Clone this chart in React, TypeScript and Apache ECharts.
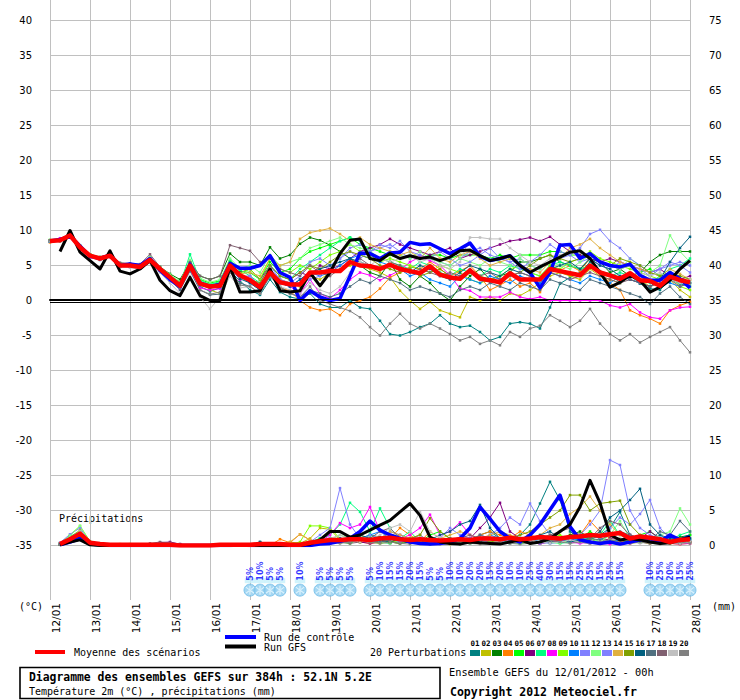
import React, { useEffect, useRef } from "react";
import * as echarts from "echarts";

// ---------- tick labels ----------
const dayLabels = ["12/01","13/01","14/01","15/01","16/01","17/01","18/01","19/01","20/01","21/01","22/01","23/01","24/01","25/01","26/01","27/01","28/01"];

// ---------- temperature (°C), every 6 h from 12/01 00h to 28/01 00h ----------
const tempMean = [8.5,8.6,9.3,7.6,6.4,6.0,6.4,5.0,5.0,4.8,5.8,4.5,3.3,2.1,5.0,2.4,2.0,2.1,5.0,3.6,2.9,1.9,4.0,2.6,2.3,2.3,4.0,4.0,4.2,4.2,5.5,5.0,4.9,4.5,5.1,4.5,4.2,3.9,4.9,3.7,3.3,3.1,4.3,3.1,2.9,2.6,3.9,3.0,3.0,3.0,4.5,4.2,3.9,3.6,5.0,4.0,3.6,3.1,3.9,2.9,2.8,2.1,3.4,2.9,2.6];
const tempControl = [8.5,8.7,9.2,7.8,6.3,6.0,6.5,5.0,5.2,5.0,6.0,4.3,3.0,2.0,5.2,2.5,2.0,2.3,5.3,4.6,4.6,5.0,6.4,4.0,3.3,0.0,1.4,0.5,0.0,0.3,3.5,6.8,6.7,6.0,6.8,6.9,8.3,8.0,8.1,7.4,6.7,7.4,8.2,6.3,5.7,6.0,6.4,5.0,4.0,1.8,4.0,7.9,8.0,6.0,6.7,5.5,5.0,4.8,5.2,3.6,2.9,2.9,4.0,3.1,1.8];
const tempGfs = [null,7.0,10.0,6.9,5.7,4.5,7.1,4.2,3.8,4.5,5.7,2.9,1.4,0.7,3.3,0.7,0.0,0.0,4.8,1.2,1.2,1.4,4.5,1.4,1.2,1.4,4.0,2.1,4.0,6.7,8.6,8.8,6.0,5.7,6.7,6.0,6.4,6.0,6.2,5.7,6.2,7.1,7.2,6.4,5.7,6.0,6.4,5.0,4.0,4.8,5.5,6.2,6.9,7.1,6.0,4.0,1.9,2.6,3.6,2.9,1.2,1.9,2.9,4.5,5.7];

const t01 = [8.4,8.7,9.2,7.8,6.5,6.1,6.3,5.1,4.9,4.6,5.6,4.3,3.0,2.4,4.6,2.0,1.3,1.8,4.2,2.8,1.5,0.8,3.0,1.2,0.5,0.2,1.0,-0.5,-1.0,-1.0,0.0,-1.0,-1.2,-2.9,-4.8,-5.0,-4.5,-3.8,-3.3,-2.1,-3.3,-3.8,-3.6,-4.5,-5.7,-5.2,-3.3,-3.1,-3.3,-4.0,-1.0,2.4,3.3,4.0,5.5,4.2,3.8,2.5,3.6,2.4,1.7,1.5,3.0,2.4,2.0];
const t02 = [8.6,8.5,9.4,7.5,6.6,5.9,6.2,5.2,5.1,4.9,5.9,4.6,3.5,2.6,5.3,2.8,1.5,1.0,4.5,3.2,3.0,2.0,4.5,3.0,2.5,2.0,3.5,3.0,4.0,4.5,5.0,5.0,4.5,4.0,3.3,1.4,0.0,-1.2,-0.2,-1.4,-1.9,-2.4,0.5,0.0,0.5,0.0,1.0,0.7,1.5,2.5,3.5,4.0,3.5,3.0,4.5,3.5,3.0,2.5,3.5,3.0,2.0,2.5,3.0,1.5,0.5];
const t03 = [8.5,8.8,9.1,7.7,6.2,6.2,6.6,5.3,5.2,5.0,6.0,4.8,3.8,3.0,5.5,3.5,3.0,3.5,6.7,5.5,5.5,5.0,7.6,6.0,6.5,8.1,9.0,8.6,7.9,7.0,6.0,5.0,4.0,3.5,5.5,3.0,2.0,3.5,2.5,1.0,0.0,2.0,3.5,4.5,3.0,3.5,4.0,5.5,5.5,6.0,6.5,5.5,5.0,4.5,6.0,5.5,4.0,4.5,3.5,4.0,5.5,6.5,7.0,7.0,7.0];
const t04 = [8.3,8.6,9.3,7.6,6.4,5.9,6.4,4.8,5.0,4.7,5.7,4.4,3.2,2.0,4.8,2.2,1.8,2.4,4.8,3.2,3.0,2.0,4.0,1.8,1.4,0.0,-1.0,-1.4,-1.2,-2.1,-0.5,0.0,0.5,1.7,3.3,4.0,4.8,4.5,5.5,4.5,3.5,4.2,5.0,3.5,1.5,2.2,3.0,2.0,2.5,1.2,4.0,4.3,5.0,4.2,6.0,4.0,2.5,1.5,-1.4,-2.1,-2.6,-3.3,-1.4,-0.7,-0.2];
const t05 = [8.6,8.7,9.5,7.7,6.5,6.1,6.5,5.2,5.1,5.0,6.1,4.7,3.6,2.5,5.5,3.0,2.5,2.8,5.6,4.2,4.0,3.0,5.5,4.0,4.5,6.0,7.0,7.5,8.0,8.5,9.0,8.0,7.5,7.0,6.5,6.0,6.5,6.0,6.5,6.5,6.0,6.5,6.5,6.5,6.0,6.5,6.0,6.5,6.5,6.5,7.0,7.0,6.5,6.5,6.0,5.5,5.0,4.5,5.0,4.0,4.5,3.5,4.0,3.0,2.5];
const t06 = [8.5,8.6,9.2,7.5,6.3,5.9,6.3,5.0,4.8,4.6,5.6,4.4,3.1,1.9,4.8,2.6,2.2,2.5,5.3,4.0,4.5,3.0,5.0,3.5,3.0,4.0,3.5,5.0,4.5,5.0,6.0,7.0,7.5,8.0,8.8,8.0,7.5,7.0,6.5,7.0,7.5,6.0,6.5,7.0,7.5,8.0,8.5,8.7,9.0,8.5,9.1,8.0,7.0,6.5,6.0,5.5,6.0,5.5,5.0,4.5,4.0,4.5,3.5,3.0,3.5];
const t07 = [8.4,8.5,9.4,7.9,6.6,6.2,6.4,5.2,5.2,4.9,6.0,4.6,3.4,2.3,6.6,2.9,2.3,2.7,5.8,4.4,3.5,2.5,5.0,3.5,3.0,4.5,5.5,6.5,7.5,8.5,9.0,8.5,7.0,6.0,5.5,5.0,4.5,5.5,5.0,4.0,3.5,4.5,4.0,3.5,4.5,4.0,5.0,4.5,4.0,3.5,5.0,5.5,5.0,4.5,5.0,4.0,3.5,4.0,3.5,3.0,2.5,3.5,4.5,5.0,6.0];
const t08 = [8.5,8.9,9.2,7.6,6.2,6.0,6.2,4.9,4.9,4.6,5.6,4.3,3.0,1.6,4.4,1.8,1.5,1.7,4.8,3.0,3.5,2.0,4.5,2.5,2.0,1.0,3.0,1.0,0.3,1.5,3.0,4.0,3.6,2.9,3.6,4.3,5.5,6.2,5.7,5.0,3.6,1.7,1.4,0.5,0.5,0.5,1.2,0.5,0.2,0.5,0.0,0.0,0.0,0.0,0.0,0.0,-0.7,-1.0,-0.5,-1.7,-2.4,-2.6,-1.4,-1.0,-0.9];
const t09 = [8.6,8.6,9.3,7.7,6.5,6.0,6.5,5.1,5.0,4.8,5.9,4.5,3.5,2.4,5.2,2.7,2.1,2.3,5.3,3.9,4.5,3.0,6.0,4.5,4.0,5.0,4.5,5.5,6.5,7.0,8.0,7.0,6.5,5.5,6.0,5.5,5.0,4.5,4.0,5.0,4.5,4.0,3.0,2.5,3.0,3.5,4.5,5.0,4.0,3.5,5.0,4.5,5.5,6.0,7.0,6.0,5.5,5.0,4.5,4.0,3.5,3.0,3.5,2.0,1.5];
const t10 = [8.4,8.5,9.1,7.5,6.3,5.8,6.3,4.9,4.8,4.7,5.7,4.3,3.1,2.0,4.6,2.2,1.8,1.9,5.0,3.4,2.5,1.5,4.0,2.5,2.0,3.0,4.0,3.5,4.0,5.0,6.0,6.5,6.0,5.5,5.0,4.5,3.5,4.0,3.0,2.5,2.0,3.5,3.0,2.5,3.5,3.0,2.5,3.5,3.0,2.5,4.0,3.5,3.0,2.5,3.5,3.0,2.5,3.5,3.0,2.5,2.0,3.0,2.5,2.0,2.5];
const t11 = [8.5,8.7,9.6,7.4,6.2,6.1,6.2,5.0,4.9,4.7,5.5,4.2,2.9,1.8,4.9,2.3,1.9,2.2,5.1,3.5,3.5,2.0,4.5,3.0,2.5,2.5,3.0,3.5,5.0,6.0,7.5,8.0,7.0,7.5,8.0,7.0,6.0,6.5,6.0,5.5,5.0,6.0,7.0,7.5,6.5,6.0,5.5,6.0,5.0,4.5,5.5,6.0,6.5,5.5,6.0,5.0,4.5,5.5,5.0,4.5,3.5,4.5,5.0,5.5,5.0];
const t12 = [8.7,8.6,9.3,7.8,6.6,6.2,6.6,5.3,5.2,5.1,6.2,4.8,3.7,2.7,5.8,3.2,2.6,3.0,6.0,4.6,5.0,4.0,6.5,5.0,5.5,6.0,7.5,8.0,8.5,9.0,8.0,7.5,7.0,6.0,7.0,6.5,6.0,7.0,6.0,5.5,5.0,6.0,5.5,5.0,6.0,5.5,5.0,6.0,5.0,4.5,5.5,5.0,4.5,5.5,6.5,5.5,5.0,4.5,6.0,5.0,4.0,5.0,9.3,7.0,5.5];
const t13 = [8.4,8.6,9.2,7.6,6.4,5.9,6.4,4.8,4.9,4.8,5.8,4.4,3.3,2.2,5.1,2.5,2.0,2.0,4.9,3.3,3.0,2.5,5.0,3.0,2.5,3.5,5.5,6.0,5.0,6.0,7.0,6.0,7.0,8.0,7.5,8.5,7.0,6.5,6.0,7.0,6.0,5.0,5.5,6.5,7.5,6.0,5.5,4.5,5.5,6.5,8.0,7.0,6.5,7.5,9.5,10.1,8.5,7.5,6.0,5.0,4.0,4.5,5.5,5.0,4.0];
const t14 = [8.5,8.5,9.0,7.5,6.4,6.0,6.5,5.1,5.1,4.9,5.9,4.6,3.4,2.2,5.0,2.5,2.1,2.4,5.2,3.8,4.0,3.5,6.0,5.0,5.5,8.8,9.7,10.0,10.3,9.5,8.5,9.0,8.0,7.5,7.0,6.5,7.0,6.0,7.5,6.0,5.5,6.5,7.0,6.0,5.0,5.5,6.0,5.0,4.5,4.0,5.5,6.0,7.5,8.0,8.8,7.5,6.5,5.5,5.0,4.5,4.0,3.5,4.5,3.8,3.0];
const t15 = [8.6,8.7,9.4,7.6,6.5,6.0,6.4,5.0,5.0,4.8,5.8,4.5,3.3,2.1,5.0,2.4,2.0,2.2,5.0,3.6,3.0,2.5,5.0,3.5,3.0,4.0,5.0,4.5,5.5,6.5,7.0,6.5,6.0,5.0,4.5,4.0,4.5,3.5,4.0,4.5,3.5,3.0,4.0,3.5,3.0,2.5,3.5,4.0,5.0,6.0,6.5,6.0,5.5,6.0,6.5,5.5,5.0,6.0,5.5,5.0,4.0,3.5,4.0,3.5,3.0];
const t16 = [8.5,8.6,9.3,7.7,6.3,6.1,6.5,4.9,5.0,4.7,5.7,4.5,3.2,2.0,4.9,2.3,1.9,2.0,4.7,3.1,2.5,1.5,3.5,2.5,2.0,3.0,4.0,4.5,5.0,5.5,6.0,5.5,5.0,4.5,5.0,4.5,4.0,5.0,4.5,3.5,3.0,4.0,5.0,4.5,4.0,3.5,4.5,4.0,3.5,3.0,4.5,5.0,5.5,4.5,6.0,5.0,4.5,3.5,3.0,2.5,2.0,3.0,5.5,7.5,9.1];
const t17 = [8.4,8.6,9.2,7.5,6.4,6.0,6.3,4.9,4.9,4.7,5.6,4.3,2.9,1.5,4.2,1.5,0.8,0.9,4.0,2.5,2.0,1.0,3.5,2.0,1.0,0.5,1.5,1.0,0.5,1.0,2.0,3.0,2.5,3.5,3.0,2.5,1.5,2.0,1.5,1.0,0.5,1.5,2.0,1.5,2.5,2.0,1.5,2.5,2.0,1.5,3.0,2.5,2.0,1.5,3.0,2.5,2.0,1.5,1.0,0.5,-0.5,1.0,2.0,0.5,-0.5];
const t18 = [8.6,8.5,9.3,7.7,6.5,6.2,6.6,5.4,5.3,5.2,6.6,4.8,3.5,2.5,5.5,3.5,3.0,3.5,7.9,7.5,7.1,5.5,6.0,4.5,4.0,3.5,5.0,4.0,3.5,4.5,5.5,6.0,5.0,4.5,5.5,5.0,4.0,4.5,4.0,3.5,4.0,3.5,4.5,3.5,4.0,3.0,3.5,4.0,3.5,3.0,4.0,3.5,3.0,3.5,4.0,3.5,3.0,2.5,3.0,2.5,2.0,2.5,3.0,2.0,2.5];
const t19 = [8.5,8.7,9.3,7.6,6.3,5.9,6.2,4.8,4.7,4.5,5.4,4.0,2.5,1.0,3.5,0.5,-1.2,0.5,3.5,1.8,2.0,1.0,4.0,2.0,1.5,1.0,2.5,1.5,1.0,2.0,4.0,5.5,5.0,6.0,5.5,6.0,6.5,5.5,6.0,5.0,4.5,5.5,9.0,9.0,8.8,8.8,7.5,6.5,5.5,5.0,6.0,6.5,7.0,6.0,6.5,5.5,5.0,4.5,5.0,4.0,3.5,4.0,3.0,2.5,3.0];
const t20 = [8.6,8.5,9.4,7.5,6.3,5.8,6.5,4.9,5.1,4.7,5.9,4.4,3.2,1.8,5.2,1.5,0.9,1.2,4.0,2.2,2.0,1.0,3.5,1.8,1.0,0.5,2.0,0.0,-0.5,-1.0,-1.5,-2.4,-3.8,-5.0,-3.3,-1.9,-3.3,-4.0,-3.3,-4.0,-4.8,-5.7,-5.2,-6.2,-5.7,-6.4,-4.5,-5.2,-4.0,-3.6,-2.1,-2.9,-3.8,-2.9,-1.2,-3.3,-4.8,-5.7,-4.8,-6.0,-5.2,-4.5,-3.8,-5.7,-7.4];
const tempMembers = [t01,t02,t03,t04,t05,t06,t07,t08,t09,t10,t11,t12,t13,t14,t15,t16,t17,t18,t19,t20];

// ---------- precipitation (mm / 6 h), from 12/01 06h to 28/01 00h ----------
const precipMean = [0.2,0.9,1.7,0.4,0.2,0.1,0.1,0.1,0.1,0.1,0.1,0.1,0.0,0.0,0.0,0.0,0.1,0.1,0.1,0.1,0.2,0.2,0.2,0.1,0.1,0.4,0.6,0.8,0.8,0.9,0.9,0.8,1.0,1.1,0.9,0.8,0.9,0.8,0.7,0.8,0.9,0.8,1.0,1.0,0.9,1.1,0.9,1.0,1.2,1.1,1.0,1.2,1.3,1.5,1.4,1.6,1.8,1.0,1.3,1.1,0.9,0.5,0.8,0.9];
const precipControl = [0.1,0.5,1.0,0.2,0.1,0,0,0,0,0,0,0,0,0,0,0,0,0,0.1,0,0,0,0,0,0,0,0.2,0.3,0.6,1.0,2.0,3.5,2.2,1.5,1.0,0.5,0.3,0.2,0.3,0.5,1.0,2.5,5.5,3.8,2.0,1.0,0.5,1.5,3.0,5.1,7.2,2.7,0.8,0.5,0.3,0.5,0.2,0.5,0.8,1.0,0.5,1.5,0.8,1.3];
const precipGfs = [0.1,0.5,0.8,0.1,0,0,0,0,0,0,0,0,0,0,0,0,0,0,0,0,0,0,0,0,0,0.2,0.8,2.0,2.0,1.2,1.5,2.2,2.9,3.6,4.8,6.0,4.3,1.2,0.5,0.3,0.2,0.5,0.4,0.3,0.2,0.5,0.8,0.3,0.5,1.0,2.0,3.0,5.5,9.3,6.1,1.5,0.8,1.0,0.8,0.5,0.3,0.4,0.8,1.2];

const r01 = [0.2,0.8,1.5,0.3,0.2,0.1,0.1,0.1,0,0,0,0,0,0,0,0,0,0,0,0.1,0.5,0.2,0,0,0,0.3,0.5,1.0,0.5,0.8,1.2,0.6,0.5,0.3,0.8,1.0,0.5,0.3,0.5,0.8,1.0,0.5,1.5,2.0,1.0,0.8,1.5,3.0,6.0,9.1,6.5,2.0,1.0,0.8,1.5,2.5,4.8,1.5,0.5,0.3,0.8,0.5,0.3,0.5];
const r02 = [0.3,1.2,2.2,0.5,0.1,0.1,0.2,0.1,0,0,0,0,0,0,0,0,0,0,0,0,0,0,0.2,0.5,0.3,1.0,2.5,2.3,0.8,0.5,1.5,1.0,0.8,0.5,0.3,1.0,1.5,0.5,0.3,0.2,0.5,0.8,0.5,0.3,0.5,1.0,0.8,0.5,0.3,0.5,1.0,1.5,0.8,0.5,1.0,0.8,0.5,0.3,0.5,1.0,0.5,0.3,0.2,0.5];
const r03 = [0.1,0.6,1.0,0.2,0.1,0,0.1,0,0,0,0,0,0,0,0,0,0,0,0,0,0,0,0,0,0,0.2,0.3,0.5,0.8,1.2,0.8,1.5,1.2,0.5,0.3,0.5,0.3,0.2,0.5,0.3,0.2,0.5,0.8,0.5,0.3,0.8,1.0,0.5,0.3,0.8,0.5,1.5,2.0,1.0,0.5,0.3,0.5,0.8,1.0,0.5,0.3,0.8,1.2,1.5];
const r04 = [0.2,1.0,1.8,0.4,0.2,0.1,0.1,0.1,0,0,0,0,0,0,0,0,0,0,0,0,0,0,0.9,0.4,1.6,0.8,0.5,0.3,0.5,0.8,0.5,0.3,0.5,1.0,2.5,1.5,0.5,2.0,1.0,0.5,0.3,0.5,1.5,2.0,1.5,1.0,2.0,1.5,1.0,0.5,0.8,1.0,1.5,3.5,2.0,1.0,0.5,0.8,0.5,0.3,0.5,0.3,0.2,0.3];
const r05 = [0.2,0.9,1.6,0.3,0.2,0.1,0.1,0.1,0,0,0,0,0,0,0,0,0,0,0,0,0,0,0,0,0,0.5,1.0,0.8,0.5,0.3,1.0,1.5,0.8,0.5,1.0,0.8,0.5,1.5,2.0,1.0,0.5,0.3,0.5,1.0,0.8,0.5,0.3,0.5,1.0,1.5,0.8,0.5,1.0,2.0,1.0,0.5,0.3,0.8,1.5,2.0,1.0,0.5,1.0,1.5];
const r06 = [0.2,0.7,1.3,0.3,0.1,0.1,0.1,0.1,0,0.2,0.4,0.5,0.2,0,0,0,0,0,0,0,0,0,0,0,0,0.3,0.5,0.3,0.5,0.8,0.5,0.3,0.5,0.8,1.5,1.0,0.5,0.8,0.3,0.5,0.8,1.0,2.5,4.0,6.1,2.0,1.0,0.5,0.3,0.5,0.8,1.0,0.5,0.3,0.5,1.0,0.8,1.5,1.0,2.0,1.0,0.5,0.3,0.5];
const r07 = [0.3,1.3,2.0,0.5,0.2,0.1,0.1,0.1,0,0,0,0,0,0,0,0,0,0,0,0,0,0,0,0,0.1,0.5,1.0,1.5,3.0,6.1,4.8,2.0,5.3,2.5,1.0,2.0,0.5,0.8,0.5,1.0,0.5,0.3,0.8,0.5,1.0,0.5,0.3,0.8,1.0,0.5,0.3,0.5,0.8,1.0,1.5,3.5,1.5,0.8,0.5,1.0,0.5,0.8,1.5,2.0];
const r08 = [0.2,0.8,1.4,0.3,0.2,0.1,0.1,0.1,0,0,0,0,0,0,0,0,0,0,0,0,0,0,0,0,0,0.3,0.5,1.5,3.2,2.5,3.0,5.5,2.0,1.5,1.0,1.5,2.5,4.4,1.5,2.0,3.3,1.5,0.8,0.5,0.3,0.5,1.0,0.5,0.3,0.5,0.8,0.5,0.3,0.5,0.3,0.2,0.5,0.3,0.8,1.0,0.5,0.3,0.2,0.3];
const r09 = [0.3,1.5,2.8,0.6,0.3,0.1,0.1,0.2,0,0,0,0,0.1,0,0,0,0,0,0,0,0,0,0,0.2,0.5,2.8,2.8,2.5,1.0,0.5,0.8,0.5,0.3,0.5,0.8,1.0,0.5,0.3,0.5,0.8,1.0,0.5,0.3,0.5,0.8,1.0,0.5,0.3,0.5,1.0,1.5,0.8,0.5,1.0,0.5,0.8,0.3,0.5,1.0,0.8,0.5,0.3,0.5,1.0];
const r10 = [0.2,0.8,1.5,0.3,0.2,0.1,0.1,0.1,0,0,0,0,0,0,0,0,0,0,0,0,0,0,0,0,0,0.2,0.5,1.0,0.8,0.5,1.0,1.5,2.0,1.0,0.5,0.8,1.0,0.5,0.3,0.5,0.8,1.0,0.5,1.5,1.0,0.5,0.8,1.0,0.5,0.3,0.5,1.0,0.8,1.5,1.0,0.5,0.8,1.0,0.5,0.8,1.5,0.5,0.3,0.8];
const r11 = [0.4,1.6,2.5,0.5,0.2,0.1,0.1,0.1,0,0,0,0.3,0,0,0,0,0,0,0,0,0,0,0,0,0,0.5,1.5,2.5,8.2,3.0,1.0,0.5,0.8,1.0,0.5,0.8,1.5,0.5,0.3,0.8,1.0,0.5,1.5,1.0,0.5,0.8,1.0,0.5,0.3,0.5,1.0,0.8,0.5,0.3,1.0,2.5,4.0,3.0,4.5,6.5,2.5,1.0,0.8,0.5];
const r12 = [0.3,1.4,2.8,0.5,0.2,0.1,0.1,0.1,0,0,0,0,0,0,0,0,0,0,0,0,0,0,0,0,0,0.3,0.5,0.8,1.5,1.0,0.5,1.0,0.5,0.3,0.8,1.0,0.5,1.0,0.8,0.5,0.3,0.5,1.0,0.8,0.5,0.3,0.5,0.8,1.0,0.5,0.3,0.8,1.5,1.0,0.5,1.5,3.5,1.0,0.5,0.8,1.5,2.0,5.3,3.0];
const r13 = [0.3,1.0,1.9,0.4,0.2,0.1,0.1,0.1,0,0,0,0,0,0,0,0,0,0,0,0,0,0,0,0,0,0.3,0.8,0.5,1.0,0.5,0.8,1.5,1.0,2.0,1.5,1.0,0.5,0.8,1.0,2.5,1.5,1.0,0.8,1.5,2.5,4.0,3.0,6.0,3.5,1.5,1.0,0.8,1.5,3.0,5.0,12.2,11.5,5.0,2.5,1.5,1.0,0.8,0.5,1.0];
const r14 = [0.2,0.9,1.6,0.4,0.2,0.1,0.1,0.1,0,0,0,0,0,0,0,0,0,0,0,0,0,0,0,0.5,1.6,0.8,0.5,0.3,0.5,1.0,1.5,0.8,1.0,2.0,1.5,1.0,0.8,0.5,1.0,1.5,2.0,1.5,1.0,1.5,2.0,1.5,1.0,0.8,1.5,2.5,3.0,4.5,5.5,7.0,5.0,3.0,1.5,1.0,0.8,0.5,0.8,0.5,0.3,0.5];
const r15 = [0.2,0.8,1.4,0.3,0.1,0.1,0.1,0.1,0,0,0,0,0,0,0,0,0,0,0,0,0,0,0,0,0,0.2,0.5,0.8,0.5,1.0,0.5,0.8,1.0,0.5,0.8,1.0,1.5,3.9,2.0,1.0,0.5,0.8,1.0,0.5,0.8,1.0,1.5,2.0,3.0,4.0,5.0,7.2,7.2,5.0,6.0,6.2,6.4,3.0,1.5,1.0,0.5,0.8,1.0,0.5];
const r16 = [0.2,0.7,1.2,0.3,0.1,0.1,0.1,0.1,0,0,0,0,0,0,0,0,0,0,0,0,0.5,0.2,0,0,0,0.3,0.5,0.8,1.0,0.8,1.5,1.0,0.8,0.5,1.0,0.8,0.5,0.8,1.5,2.0,3.0,3.5,5.8,2.5,1.0,0.8,0.5,1.0,1.5,2.0,1.0,0.5,0.8,1.0,2.0,4.0,5.0,6.5,8.1,3.0,1.5,1.0,0.8,1.0];
const r17 = [0.2,0.8,1.5,0.4,0.2,0.1,0.1,0.1,0,0,0,0,0,0,0,0,0,0,0,0,0,0,0,0,0,0.2,0.3,0.5,0.8,0.5,1.0,0.8,0.5,0.8,1.0,0.5,0.3,0.5,0.8,1.0,0.5,0.8,1.5,1.0,0.5,0.3,0.5,0.8,1.0,0.5,0.8,1.0,1.5,1.0,0.8,1.5,2.0,1.5,1.0,0.8,2.0,1.5,3.5,2.0];
const r18 = [0.2,0.9,1.5,0.3,0.2,0.1,0.1,0.1,0,0.3,0.5,0.4,0.2,0,0,0,0,0,0,0,0,0,0,0,0,0.3,0.5,0.8,0.5,0.3,0.5,1.0,2.0,2.5,1.0,0.5,0.3,0.5,0.8,0.5,1.0,1.5,1.0,0.8,0.5,1.0,0.8,0.5,1.0,1.5,2.0,2.5,1.5,1.0,2.5,3.5,3.0,1.5,1.0,0.5,0.8,0.5,0.3,0.5];
const r19 = [0.3,1.1,2.0,0.4,0.2,0.1,0.1,0.1,0,0,0,0,0,0,0,0,0,0,0,0,0,0,0,0,0,0.3,0.5,1.0,1.5,0.8,0.5,0.8,1.5,2.5,3.0,2.0,4.9,2.0,1.0,0.8,0.5,0.3,0.5,0.8,0.5,0.3,0.5,0.8,0.5,0.3,0.5,0.8,0.5,0.3,0.5,0.8,1.0,0.5,0.3,0.5,0.8,0.5,0.3,0.5];
const r20 = [0.2,0.8,1.4,0.3,0.2,0.1,0.1,0.1,0,0,0,0,0,0,0,0,0,0,0,0,0,0,0,0,0,0.2,0.3,0.5,0.3,0.5,0.8,0.5,0.3,0.5,0.3,0.2,0.5,0.3,0.2,0.3,0.5,0.3,0.2,0.3,0.5,0.3,0.2,0.3,0.5,0.8,0.5,0.3,0.5,0.3,0.5,0.8,0.5,0.3,0.5,0.3,0.2,0.3,0.5,0.3];
const precipMembers = [r01,r02,r03,r04,r05,r06,r07,r08,r09,r10,r11,r12,r13,r14,r15,r16,r17,r18,r19,r20];

const memberColors = ["#008080","#c0c000","#008000","#ff8000","#00ff00","#800080","#00ff80","#ff00ff","#80ff00","#0080ff","#8080ff","#80ff80","#8080ff","#e0b040","#80a000","#006080","#507080","#806070","#c0c0c0","#808080"];
const memberLabels = ["01","02","03","04","05","06","07","08","09","10","11","12","13","14","15","16","17","18","19","20"];

// ---------- snow probability (%) ----------
const snowHours = [120,126,132,138,150,162,168,174,180,192,198,204,210,216,222,228,234,240,246,252,258,264,270,276,282,288,294,300,306,312,318,324,330,336,342,360,366,372,378,384];
const snowPct = [5,10,5,5,10,5,5,5,5,5,10,15,15,20,15,5,5,10,10,20,20,15,20,10,10,25,40,30,15,15,25,25,15,25,15,10,25,20,15,25];

const MONO = '"DejaVu Sans Mono", monospace';
const SANS = '"DejaVu Sans", sans-serif';
const SNOWFLAKE = "path://M4.4 0 H5.6 V10 H4.4 Z M0.5 2.1 L1.1 1.1 L9.5 7.9 L8.9 8.9 Z M0.5 7.9 L1.1 8.9 L9.5 2.1 L8.9 1.1 Z";

const toPairs = (vals: (number | null)[], startHour: number) => vals.map((v, i) => [startHour + i * 6, v]);

function memberSeries(vals: number[], start: number, color: string, yAxisIndex: number) {
  return {
    type: "line",
    xAxisIndex: 0,
    yAxisIndex,
    data: toPairs(vals, start),
    symbol: "rect",
    symbolSize: 2.5,
    showSymbol: true,
    lineStyle: { color, width: 1 },
    itemStyle: { color },
    silent: true,
    z: 2,
  };
}

function thickSeries(vals: (number | null)[], start: number, color: string, width: number, yAxisIndex: number, extra: any = {}) {
  return {
    type: "line",
    xAxisIndex: 0,
    yAxisIndex,
    data: toPairs(vals, start),
    symbol: "none",
    lineStyle: { color, width, join: "round" },
    itemStyle: { color },
    silent: true,
    z: 3,
    ...extra,
  };
}

function buildOption() {
  const series: any[] = [];
  tempMembers.forEach((v, i) => series.push(memberSeries(v, 0, memberColors[i], 0)));
  precipMembers.forEach((v, i) => series.push(memberSeries(v, 6, memberColors[i], 1)));
  series.push(thickSeries(tempControl, 0, "#0000ff", 3.5, 0));
  series.push(thickSeries(precipControl, 6, "#0000ff", 3.5, 1));
  series.push(thickSeries(tempGfs, 0, "#000000", 3, 0));
  series.push(thickSeries(precipGfs, 6, "#000000", 3, 1));
  series.push(thickSeries(tempMean, 0, "#ff0000", 4.5, 0, {
    markLine: {
      silent: true,
      symbol: "none",
      label: { show: false },
      lineStyle: { color: "#000000", width: 1, type: "solid", opacity: 1 },
      data: [{ yAxis: 0.2 }, { yAxis: -0.22 }],
    },
  }));
  series.push(thickSeries(precipMean, 6, "#ff0000", 4.5, 1));

  // snow band + icons
  series.push({
    type: "scatter",
    xAxisIndex: 1,
    yAxisIndex: 2,
    data: snowHours.map((h) => [h, -40.1]),
    symbol: "rect",
    symbolSize: [10.5, 5],
    itemStyle: { color: "#c6f0fb" },
    silent: true,
    z: 1,
  });
  series.push({
    type: "scatter",
    xAxisIndex: 1,
    yAxisIndex: 2,
    data: snowHours.map((h, i) => [h, -41.45, snowPct[i]]),
    symbol: "circle",
    symbolSize: 12,
    itemStyle: { color: "#8fcdf0", borderColor: "#6fbde8", borderWidth: 1 },
    label: {
      show: true,
      position: "top",
      distance: 3,
      rotate: 90,
      align: "left",
      verticalAlign: "middle",
      formatter: (p: any) => p.value[2] + "%",
      color: "#0000ff",
      fontSize: 8,
      fontWeight: "bold",
      fontFamily: SANS,
    },
    silent: true,
    z: 2,
  });
  series.push({
    type: "scatter",
    xAxisIndex: 1,
    yAxisIndex: 2,
    data: snowHours.map((h) => [h, -41.45]),
    symbol: SNOWFLAKE,
    symbolSize: 9,
    itemStyle: { color: "#e8f8ff", opacity: 0.85 },
    silent: true,
    z: 3,
  });

  const graphic: any[] = [];
  const txt = (text: string, x: number, y: number, font: string, align = "left") => ({
    type: "text",
    x,
    y,
    silent: true,
    style: { text, font, fill: "#000", textAlign: align, textVerticalAlign: "middle" },
  });
  graphic.push(txt("(°C)", 19, 606, `10px ${MONO}`));
  graphic.push(txt("(mm)", 712, 606, `10px ${MONO}`));
  graphic.push(txt("Précipitations", 59, 518, `10px ${MONO}`));
  // legend
  graphic.push({ type: "line", shape: { x1: 35, y1: 652, x2: 65, y2: 652 }, style: { stroke: "#ff0000", lineWidth: 4 }, silent: true });
  graphic.push(txt("Moyenne des scénarios", 74, 652, `10px ${MONO}`));
  graphic.push({ type: "line", shape: { x1: 225, y1: 637, x2: 256, y2: 637 }, style: { stroke: "#0000ff", lineWidth: 4 }, silent: true });
  graphic.push(txt("Run de contrôle", 264, 637, `10px ${MONO}`));
  graphic.push({ type: "line", shape: { x1: 225, y1: 646.5, x2: 256, y2: 646.5 }, style: { stroke: "#000000", lineWidth: 4 }, silent: true });
  graphic.push(txt("Run GFS", 264, 647, `10px ${MONO}`));
  graphic.push(txt("20 Perturbations", 370, 652, `10px ${MONO}`));
  memberColors.forEach((c, i) => {
    graphic.push({ type: "rect", shape: { x: 470 + i * 11, y: 650, width: 10, height: 6 }, style: { fill: c }, silent: true });
    graphic.push(txt(memberLabels[i], 475 + i * 11, 643, `bold 7.5px ${MONO}`, "center"));
  });
  // title box
  graphic.push({ type: "rect", shape: { x: 20, y: 667.5, width: 420, height: 31 }, style: { fill: "#fff", stroke: "#000", lineWidth: 1.6 }, silent: true });
  graphic.push(txt("Diagramme des ensembles GEFS sur 384h : 52.1N 5.2E", 29, 677, `bold 11.4px ${MONO}`));
  graphic.push(txt("Température 2m (°C) , précipitations (mm)", 29, 691, `10px ${MONO}`));
  graphic.push(txt("Ensemble GEFS du 12/01/2012 - 00h", 449, 672, `10.3px ${MONO}`));
  graphic.push(txt("Copyright 2012 Meteociel.fr", 450, 692, `bold 11.5px ${MONO}`));

  return {
    animation: false,
    backgroundColor: "#ffffff",
    grid: [
      { left: 50, top: 20.5, width: 640, height: 525, containLabel: false, outerBoundsMode: "none" },
      { left: 50, top: 0, width: 640, height: 600, containLabel: false, outerBoundsMode: "none" },
    ],
    xAxis: [
      { type: "value", gridIndex: 0, min: 0, max: 384, show: false },
      {
        type: "value",
        gridIndex: 1,
        min: 0,
        max: 384,
        interval: 24,
        position: "bottom",
        axisLine: { show: true, lineStyle: { color: "#000", width: 2 } },
        axisTick: { show: false },
        splitLine: { show: true, lineStyle: { color: "#c0c0c0", width: 1 } },
        axisLabel: {
          show: true,
          rotate: 90,
          margin: 3,
          verticalAlign: "top",
          color: "#000",
          fontSize: 10.5,
          fontFamily: SANS,
          formatter: (v: number) => dayLabels[Math.round(v / 24)] ?? "",
        },
      },
    ],
    yAxis: [
      {
        type: "value",
        gridIndex: 0,
        position: "left",
        min: -35,
        max: 40,
        interval: 5,
        axisLine: { show: false },
        axisTick: { show: false },
        splitLine: { show: true, lineStyle: { color: "#c0c0c0", width: 1 } },
        axisLabel: { color: "#000", fontSize: 10, fontFamily: SANS, margin: 18 },
      },
      {
        type: "value",
        gridIndex: 0,
        position: "right",
        min: 0,
        max: 75,
        interval: 5,
        axisLine: { show: false },
        axisTick: { show: false },
        splitLine: { show: false },
        axisLabel: { color: "#000", fontSize: 10, fontFamily: SANS, margin: 19 },
      },
      { type: "value", gridIndex: 1, min: -300 / 7, max: 300 / 7, show: false },
    ],
    series,
    graphic,
  };
}

export default function App() {
  const ref = useRef<HTMLDivElement>(null);
  useEffect(() => {
    document.body.style.margin = "0";
    const chart = echarts.init(ref.current!, null, { renderer: "svg", width: 740, height: 700 });
    chart.setOption(buildOption() as any);
    return () => chart.dispose();
  }, []);
  return <div ref={ref} style={{ width: 740, height: 700, background: "#fff" }} />;
}
